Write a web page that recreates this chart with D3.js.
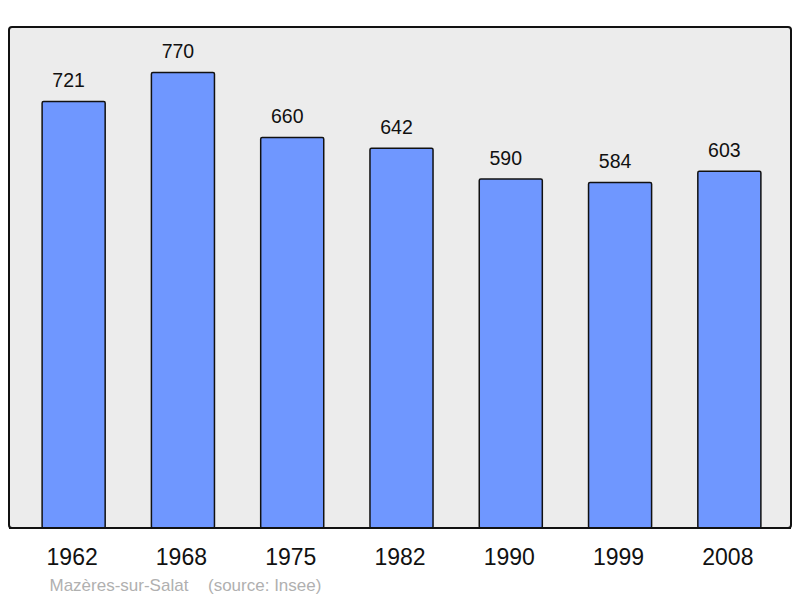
<!DOCTYPE html>
<html><head><meta charset="utf-8">
<script src="https://cdn.jsdelivr.net/npm/d3@7"></script>
<style>body{margin:0;background:#fff}svg{display:block}</style>
</head><body>
<script>
const years = ["1962","1968","1975","1982","1990","1999","2008"];
const population = [721, 770, 660, 642, 590, 584, 603];
const placeName = "Mazères-sur-Salat";
const sourceText = "(source: Insee)";

const W = 800, H = 598;
const svg = d3.select("body").append("svg").attr("width", W).attr("height", H);
const font = "Liberation Sans, Arial, sans-serif";

const panel = {x: 9, y: 27, w: 782, h: 501};
svg.append("rect").attr("x", panel.x).attr("y", panel.y).attr("width", panel.w).attr("height", panel.h)
  .attr("rx", 3).attr("fill", "#ececec").attr("stroke", "#111").attr("stroke-width", 2);

const x = d3.scaleBand().domain(years).range([19, 784]).paddingInner(0.423).paddingOuter(0.2115);
const y = d3.scaleLinear().domain([0, 847]).range([528, 27]);

const data = years.map((yr, i) => ({yr, v: population[i]}));

svg.selectAll("rect.bar").data(data).join("rect").attr("class", "bar")
  .attr("x", d => x(d.yr)).attr("y", d => y(d.v))
  .attr("width", x.bandwidth()).attr("height", d => y(0) - y(d.v))
  .attr("rx", 1.5)
  .attr("fill", "#6f97ff").attr("stroke", "#111").attr("stroke-width", 1.5);

svg.selectAll("text.val").data(data).join("text").attr("class", "val")
  .attr("x", d => x(d.yr) + x.bandwidth()/2 - 5).attr("y", d => y(d.v) - 14.5)
  .attr("text-anchor", "middle").attr("font-family", font).attr("font-size", 19.5).attr("fill", "#111")
  .text(d => d.v);

svg.append("line").attr("x1", panel.x).attr("x2", panel.x + panel.w).attr("y1", 528).attr("y2", 528)
  .attr("stroke", "#111").attr("stroke-width", 2);

svg.selectAll("text.yr").data(years).join("text").attr("class", "yr")
  .attr("x", d => x(d) + x.bandwidth()/2 - 1.5).attr("y", 565)
  .attr("text-anchor", "middle").attr("font-family", font).attr("font-size", 23).attr("fill", "#111")
  .text(d => d);

svg.append("text").attr("x", 49.5).attr("y", 591).attr("font-family", font).attr("font-size", 17)
  .attr("fill", "#b0b0b0").text(placeName);
svg.append("text").attr("x", 208).attr("y", 591).attr("font-family", font).attr("font-size", 17)
  .attr("fill", "#b0b0b0").text(sourceText);
</script>
</body></html>
